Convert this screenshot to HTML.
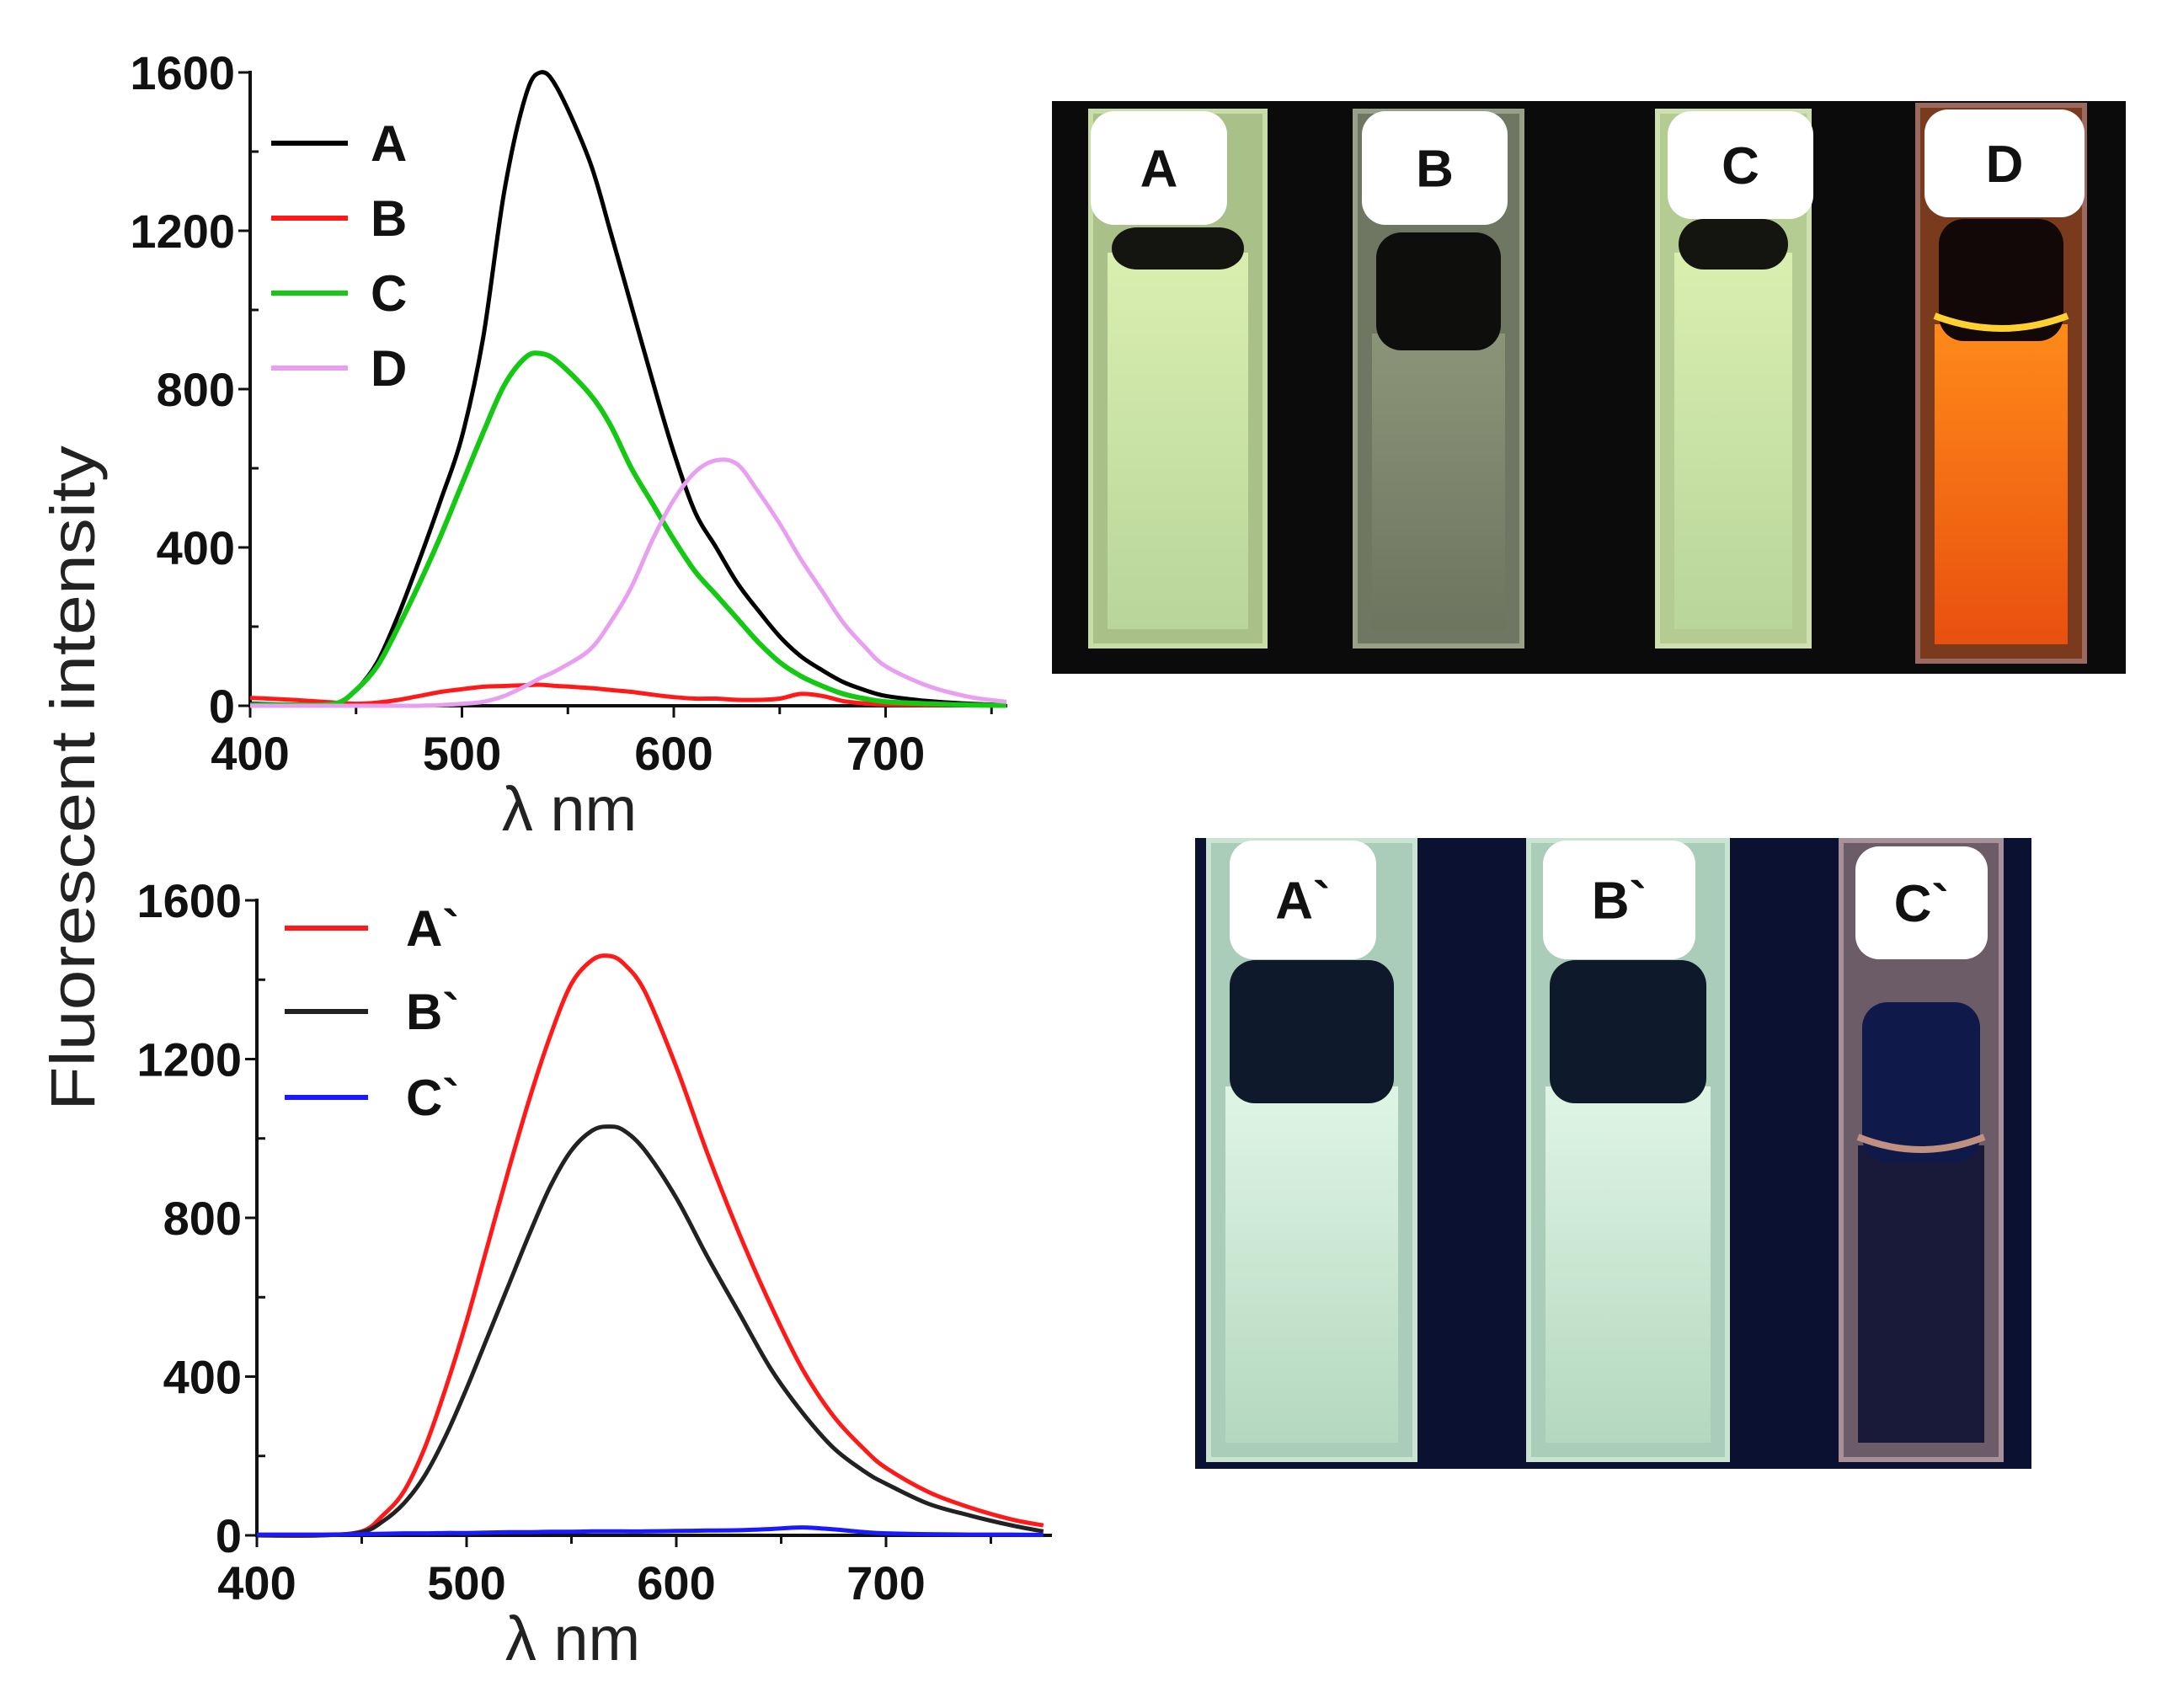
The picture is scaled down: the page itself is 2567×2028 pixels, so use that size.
<!DOCTYPE html>
<html><head><meta charset="utf-8"><style>
html,body{margin:0;padding:0;background:#fff;}
svg{display:block;}
text{font-family:"Liberation Sans",Arial,sans-serif;}
</style></head><body>
<svg id="fig" width="2567" height="2028" viewBox="0 0 2567 2028" xmlns="http://www.w3.org/2000/svg">
<defs>
<linearGradient id="grnA" x1="0" y1="0" x2="0" y2="1"><stop offset="0" stop-color="#d9efb0"/><stop offset="1" stop-color="#b9d59a"/></linearGradient>
<linearGradient id="grnB" x1="0" y1="0" x2="0" y2="1"><stop offset="0" stop-color="#8c9478"/><stop offset="1" stop-color="#6d7560"/></linearGradient>
<linearGradient id="org" x1="0" y1="0" x2="0" y2="1"><stop offset="0" stop-color="#ff8a1a"/><stop offset="1" stop-color="#e8500e"/></linearGradient>
<linearGradient id="mint" x1="0" y1="0" x2="0" y2="1"><stop offset="0" stop-color="#dff5e4"/><stop offset="1" stop-color="#b4d8bf"/></linearGradient>
</defs>
<g id="charts"></g>
<g id="photos"></g>
<text transform="translate(112,924) rotate(-90)" font-size="74" text-anchor="middle" fill="#222" textLength="790" lengthAdjust="spacingAndGlyphs">Fluorescent intensity</text>
</svg>
<script>
// ---------- data: top chart ----------
const topX = [400,420,440,450,460,470,480,490,500,510,520,530,537,545,560,570,580,590,600,610,620,630,640,650,660,670,680,690,700,720,740,757];
const seriesA = [5,3,5,40,110,230,370,520,680,930,1300,1540,1600,1560,1380,1200,1010,820,640,490,400,310,240,175,125,90,60,40,25,12,5,2];
const seriesB = [20,15,8,5,8,15,25,35,42,48,50,52,53,50,45,40,35,28,22,18,18,15,15,18,30,25,12,6,3,2,2,1];
const seriesC = [2,2,5,40,100,200,310,430,560,690,810,880,890,870,790,710,600,510,420,340,280,220,160,110,75,50,30,18,10,5,2,1];
const seriesD = [0,0,0,0,0,0,0,2,5,10,25,50,70,90,140,210,300,420,520,590,620,610,540,460,370,290,210,150,100,50,22,10];
// ---------- data: bottom chart ----------
const botX = [400,430,450,460,470,480,490,500,510,520,530,540,550,560,568,575,585,600,615,630,645,660,675,690,700,720,740,760,775];
const seriesA2 = [0,0,10,50,110,220,370,540,730,920,1100,1260,1390,1450,1460,1440,1370,1180,960,760,580,420,300,215,170,110,70,40,25];
const seriesB2 = [0,0,8,35,80,150,250,370,500,630,760,880,970,1020,1030,1020,970,850,700,560,420,310,220,160,130,80,50,25,10];
const seriesC2 = [2,2,3,4,5,5,6,6,7,8,8,9,9,10,10,10,10,11,12,13,16,20,15,8,5,3,2,2,1];
const yTicks = [0,400,800,1200,1600];
const xTicks = [400,500,600,700];
const legendTop = ["A","B","C","D"];
const legendBot = ["A`","B`","C`"];

const NS="http://www.w3.org/2000/svg";
function mk(tag,attrs,parent){const e=document.createElementNS(NS,tag);for(const k in attrs)e.setAttribute(k,attrs[k]);parent.appendChild(e);return e;}
function smooth(pts){let d="M"+pts[0][0].toFixed(1)+","+pts[0][1].toFixed(1);
 for(let i=0;i<pts.length-1;i++){const p0=pts[i-1]||pts[i],p1=pts[i],p2=pts[i+1],p3=pts[i+2]||p2;
  const c1=[p1[0]+(p2[0]-p0[0])/6,p1[1]+(p2[1]-p0[1])/6],c2=[p2[0]-(p3[0]-p1[0])/6,p2[1]-(p3[1]-p1[1])/6];
  d+=" C"+c1[0].toFixed(1)+","+c1[1].toFixed(1)+" "+c2[0].toFixed(1)+","+c2[1].toFixed(1)+" "+p2[0].toFixed(1)+","+p2[1].toFixed(1);}
 return d;}

function chart(cfg){
 const g=mk("g",{},document.getElementById("charts"));
 
 
 const xs=v=>cfg.x0+(v-400)*cfg.pxPerNm;
 const ys=v=>cfg.y0-(v/1600)*(cfg.y0-cfg.y1600);
 const ax=mk("path",{d:`M${cfg.x0},${cfg.y1600-2} V${cfg.y0} H${cfg.xEnd}`,stroke:"#111","stroke-width":4,fill:"none"},g);
 
 
 for(let v=0;v<=1600;v+=200){const y=ys(v);mk("line",{x1:cfg.x0-(v%400?0:14),x2:cfg.x0+(v%400?10:0),y1:y,y2:y,stroke:"#111","stroke-width":3},g);}
 yTicks.forEach(v=>{const t=mk("text",{x:cfg.x0-18,y:ys(v)+20,"font-size":56,"font-weight":"bold","text-anchor":"end",fill:"#111"},g);t.textContent=v;
  
  });
 for(let v=400;v<=cfg.xMax;v+=50){const x=xs(v);mk("line",{x1:x,x2:x,y1:cfg.y0,y2:cfg.y0+(v%100?10:14),stroke:"#111","stroke-width":3},g);}
 xTicks.forEach(v=>{const t=mk("text",{x:xs(v),y:cfg.y0+76,"font-size":56,"font-weight":"bold","text-anchor":"middle",fill:"#111"},g);t.textContent=v;
  
  });
 const xl=mk("text",{x:cfg.xLabelX,y:cfg.y0+148,"font-size":74,"text-anchor":"middle",fill:"#222"},g);xl.textContent="λ nm";
 
 
 cfg.series.forEach((s,i)=>{
  const pts=cfg.xv.map((x,j)=>[xs(x),ys(s.v[j])]);
  const p=mk("path",{d:smooth(pts),stroke:s.c,"stroke-width":s.w||5,fill:"none","stroke-linejoin":"round"},g);
  
  
  const ly=cfg.legY[i];
  const ll=mk("line",{x1:cfg.legX1,x2:cfg.legX2,y1:ly,y2:ly,stroke:s.c,"stroke-width":6},g);
  
  
  const lt=mk("text",{x:cfg.legTX,y:ly+21,"font-size":60,"font-weight":"bold",fill:"#111"},g);lt.textContent=s.n;
  
  
 });
}
chart({name:"top-spectrum-chart",x0:297,y0:838,y1600:86,pxPerNm:2.515,xEnd:1196,xMax:757,xLabelX:676,xv:topX,
 legX1:322,legX2:413,legTX:440,legY:[170,259,348,437],
 series:[{n:legendTop[0],v:seriesA,c:"#000"},{n:legendTop[1],v:seriesB,c:"#ff1a1a"},{n:legendTop[2],v:seriesC,c:"#14c814",w:6},{n:legendTop[3],v:seriesD,c:"#e89ff0"}]});
chart({name:"bottom-spectrum-chart",x0:305,y0:1823,y1600:1069,pxPerNm:2.49,xEnd:1249,xMax:775,xLabelX:680,xv:botX,
 legX1:338,legX2:437,legTX:482,legY:[1102,1201,1303],
 series:[{n:legendBot[0],v:seriesA2,c:"#ff1a1a"},{n:legendBot[1],v:seriesB2,c:"#222"},{n:legendBot[2],v:seriesC2,c:"#1a1aff"}]});

// ---------- photos ----------
const ph=document.getElementById("photos");
function photo(name,x,y,w,h,bg,cuv){
 const g=mk("g",{},ph);
 
 
 mk("rect",{x,y,width:w,height:h,fill:bg},g);
 cuv.forEach(c=>{
  const cg=mk("g",{},g);
  
  
  mk("rect",{x:c.x1,y:c.top,width:c.x2-c.x1,height:c.bot-c.top,fill:c.glass,stroke:c.edge,"stroke-width":6},cg);
  mk("rect",{x:c.x1+20,y:c.liq,width:c.x2-c.x1-40,height:c.bot-c.liq-20,fill:c.fill},cg);
  mk("rect",{x:c.x1+25,y:c.liq-(c.dark||0),width:c.x2-c.x1-50,height:(c.dark||0)+20,rx:30,fill:c.menisc},cg);
  if(c.line) mk("path",{d:`M${c.x1+20},${c.liq-10} Q${(c.x1+c.x2)/2},${c.liq+20} ${c.x2-20},${c.liq-10}`,stroke:c.line,"stroke-width":8,fill:"none"},cg);
  mk("rect",{x:c.lx1,y:c.ly1,width:c.lx2-c.lx1,height:c.ly2-c.ly1,rx:28,fill:"#fff"},cg);
  const t=mk("text",{x:(c.lx1+c.lx2)/2,y:(c.ly1+c.ly2)/2+22,"font-size":62,"font-weight":"bold","text-anchor":"middle",fill:"#111"},cg);t.textContent=c.label;
  
  
 });
}
photo("top-cuvette-photo",1249,120,1275,680,"#0b0b0b",[
 {label:"A",x1:1295,x2:1502,top:132,bot:767,liq:300,dark:30,glass:"#a9c088",edge:"#c8dca8",fill:"url(#grnA)",menisc:"#141510",lx1:1295,lx2:1457,ly1:132,ly2:267},
 {label:"B",x1:1609,x2:1807,top:132,bot:767,liq:396,dark:120,glass:"#6f7763",edge:"#98a088",fill:"url(#grnB)",menisc:"#0e0e0c",lx1:1617,lx2:1790,ly1:132,ly2:267},
 {label:"C",x1:1968,x2:2148,top:132,bot:767,liq:300,dark:40,glass:"#b4cc92",edge:"#cfe0b0",fill:"url(#grnA)",menisc:"#141510",lx1:1980,lx2:2153,ly1:132,ly2:260},
 {label:"D",x1:2277,x2:2475,top:125,bot:785,liq:385,dark:125,glass:"#7a3a1e",edge:"#9a6a60",fill:"url(#org)",menisc:"#120808",line:"#ffd030",lx1:2285,lx2:2475,ly1:130,ly2:258}]);
photo("bottom-cuvette-photo",1419,995,993,749,"#0b1130",[
 {label:"A`",x1:1435,x2:1680,top:998,bot:1733,liq:1290,dark:150,glass:"#a9cdb8",edge:"#c9e4d2",fill:"url(#mint)",menisc:"#0e1a2c",lx1:1460,lx2:1634,ly1:998,ly2:1139},
 {label:"B`",x1:1815,x2:2051,top:998,bot:1733,liq:1290,dark:150,glass:"#a9cdb8",edge:"#c9e4d2",fill:"url(#mint)",menisc:"#0e1a2c",lx1:1832,lx2:2013,ly1:998,ly2:1139},
 {label:"C`",x1:2186,x2:2376,top:998,bot:1733,liq:1360,dark:170,glass:"#6c5c68",edge:"#a89098",fill:"#191a3a",menisc:"#101a4a",line:"#c09080",lx1:2203,lx2:2360,ly1:1005,ly2:1139}]);
</script>
</body></html>
